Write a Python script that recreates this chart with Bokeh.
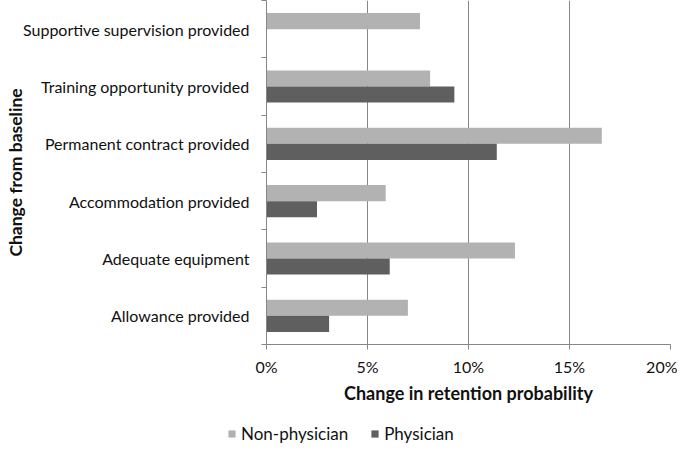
import math
from bokeh.plotting import figure
from bokeh.layouts import column, row
from bokeh.models import (Range1d, FixedTicker, PrintfTickFormatter, CustomJSTickFormatter,
                          Legend, LegendItem, ColumnDataSource, Spacer)
from bokeh.embed import file_html
from bokeh.resources import INLINE

# ---- data (bottom to top) ----
categories = ["Allowance provided", "Adequate equipment", "Accommodation provided",
              "Permanent contract provided", "Training opportunity provided",
              "Supportive supervision provided"]
non_physician = [7.0, 12.3, 5.9, 16.6, 8.1, 7.6]
physician = [3.1, 6.1, 2.5, 11.4, 9.3, None]
x_ticks = [0, 5, 10, 15, 20]
series_names = ["Non-physician", "Physician"]
x_title = "Change in retention probability"
y_title = "Change from baseline"

FONT = "Lato"
TEXT = "#111111"
AXIS = "#868686"
C_NP = "#b2b2b2"
C_P = "#5f5f5f"
W = 677

n = len(categories)
centers = [i + 0.5 for i in range(n)]
bar_h = 0.28

src_np = ColumnDataSource(dict(y=[c + bar_h / 2 for c in centers], right=non_physician))
src_p = ColumnDataSource(dict(y=[c - bar_h / 2 for c in centers],
                              right=[float("nan") if v is None else v for v in physician]))

p = figure(width=W, height=422, output_backend="svg", toolbar_location=None,
           x_range=Range1d(x_ticks[0], x_ticks[-1]), y_range=Range1d(0, n),
           min_border_left=266, min_border_right=7, min_border_top=0, min_border_bottom=78)
p.outline_line_color = None
p.background_fill_color = "white"
p.border_fill_color = "white"

p.hbar(y="y", left=0, right="right", height=bar_h, source=src_np,
       fill_color=C_NP, line_color=None)
p.hbar(y="y", left=0, right="right", height=bar_h, source=src_p,
       fill_color=C_P, line_color=None)

# x axis
xa = p.xaxis[0]
xa.ticker = FixedTicker(ticks=x_ticks)
xa.formatter = PrintfTickFormatter(format="%d%%")
xa.axis_line_color = AXIS
xa.major_tick_line_color = AXIS
xa.major_tick_out = 5
xa.major_tick_in = 0
xa.minor_tick_line_color = None
xa.major_label_standoff = 7
xa.major_label_text_font = FONT
xa.major_label_text_font_size = "16px"
xa.major_label_text_color = TEXT
xa.axis_label = x_title
xa.axis_label_text_font = FONT
xa.axis_label_text_font_style = "bold"
xa.axis_label_text_font_size = "18px"
xa.axis_label_text_color = TEXT
xa.axis_label_standoff = 3

# y axis
ya = p.yaxis[0]
ya.ticker = FixedTicker(ticks=centers, minor_ticks=list(range(n + 1)))
ya.formatter = CustomJSTickFormatter(args=dict(cats=categories),
                                     code="return cats[Math.floor(tick)] || '';")
ya.axis_line_color = AXIS
ya.major_tick_out = 0
ya.major_tick_in = 0
ya.major_tick_line_color = None
ya.minor_tick_line_color = AXIS
ya.minor_tick_out = 5
ya.minor_tick_in = 0
ya.major_label_standoff = 12
ya.major_label_text_font = FONT
ya.major_label_text_font_size = "16px"
ya.major_label_text_color = TEXT
ya.axis_label = y_title
ya.axis_label_text_font = FONT
ya.axis_label_text_font_style = "bold"
ya.axis_label_text_font_size = "17.5px"
ya.axis_label_text_color = TEXT
ya.axis_label_standoff = -6

p.xgrid.ticker = FixedTicker(ticks=x_ticks)
p.xgrid.grid_line_color = AXIS
p.xgrid.grid_line_width = 1
p.ygrid.grid_line_color = None

# ---- legend strip below the chart ----
LG_LEFT = 227
LG_H = 22
lg = figure(width=W - LG_LEFT, height=LG_H, output_backend="svg", toolbar_location=None,
            x_range=Range1d(0, 1), y_range=Range1d(0, 1),
            x_axis_location=None, y_axis_location=None,
            min_border_left=0, min_border_right=0, min_border_top=0, min_border_bottom=0)
lg.outline_line_color = None
lg.xgrid.visible = False
lg.ygrid.visible = False
# legend proxies: one bar each, placed outside the strip's visible range
proxy = ColumnDataSource(dict(y=[-5.0], left=[0.0], right=[1.0]))
l_np = lg.hbar(y="y", left="left", right="right", height=0.1, source=proxy,
               fill_color=C_NP, line_color=None)
l_p = lg.hbar(y="y", left="left", right="right", height=0.1, source=proxy,
              fill_color=C_P, line_color=None)

legend = Legend(items=[LegendItem(label=series_names[0], renderers=[l_np]),
                       LegendItem(label=series_names[1], renderers=[l_p])],
                orientation="horizontal", location=(0, 0),
                glyph_width=9, glyph_height=9, label_standoff=5, spacing=22,
                padding=0, margin=0, border_line_color=None, background_fill_alpha=0,
                label_text_font=FONT, label_text_font_size="17px", label_text_color=TEXT,
                label_height=LG_H)
lg.add_layout(legend, "center")

layout = column(p, row(Spacer(width=LG_LEFT, height=LG_H), lg, spacing=0), spacing=0)
open("out.html", "w").write(file_html(layout, INLINE))
